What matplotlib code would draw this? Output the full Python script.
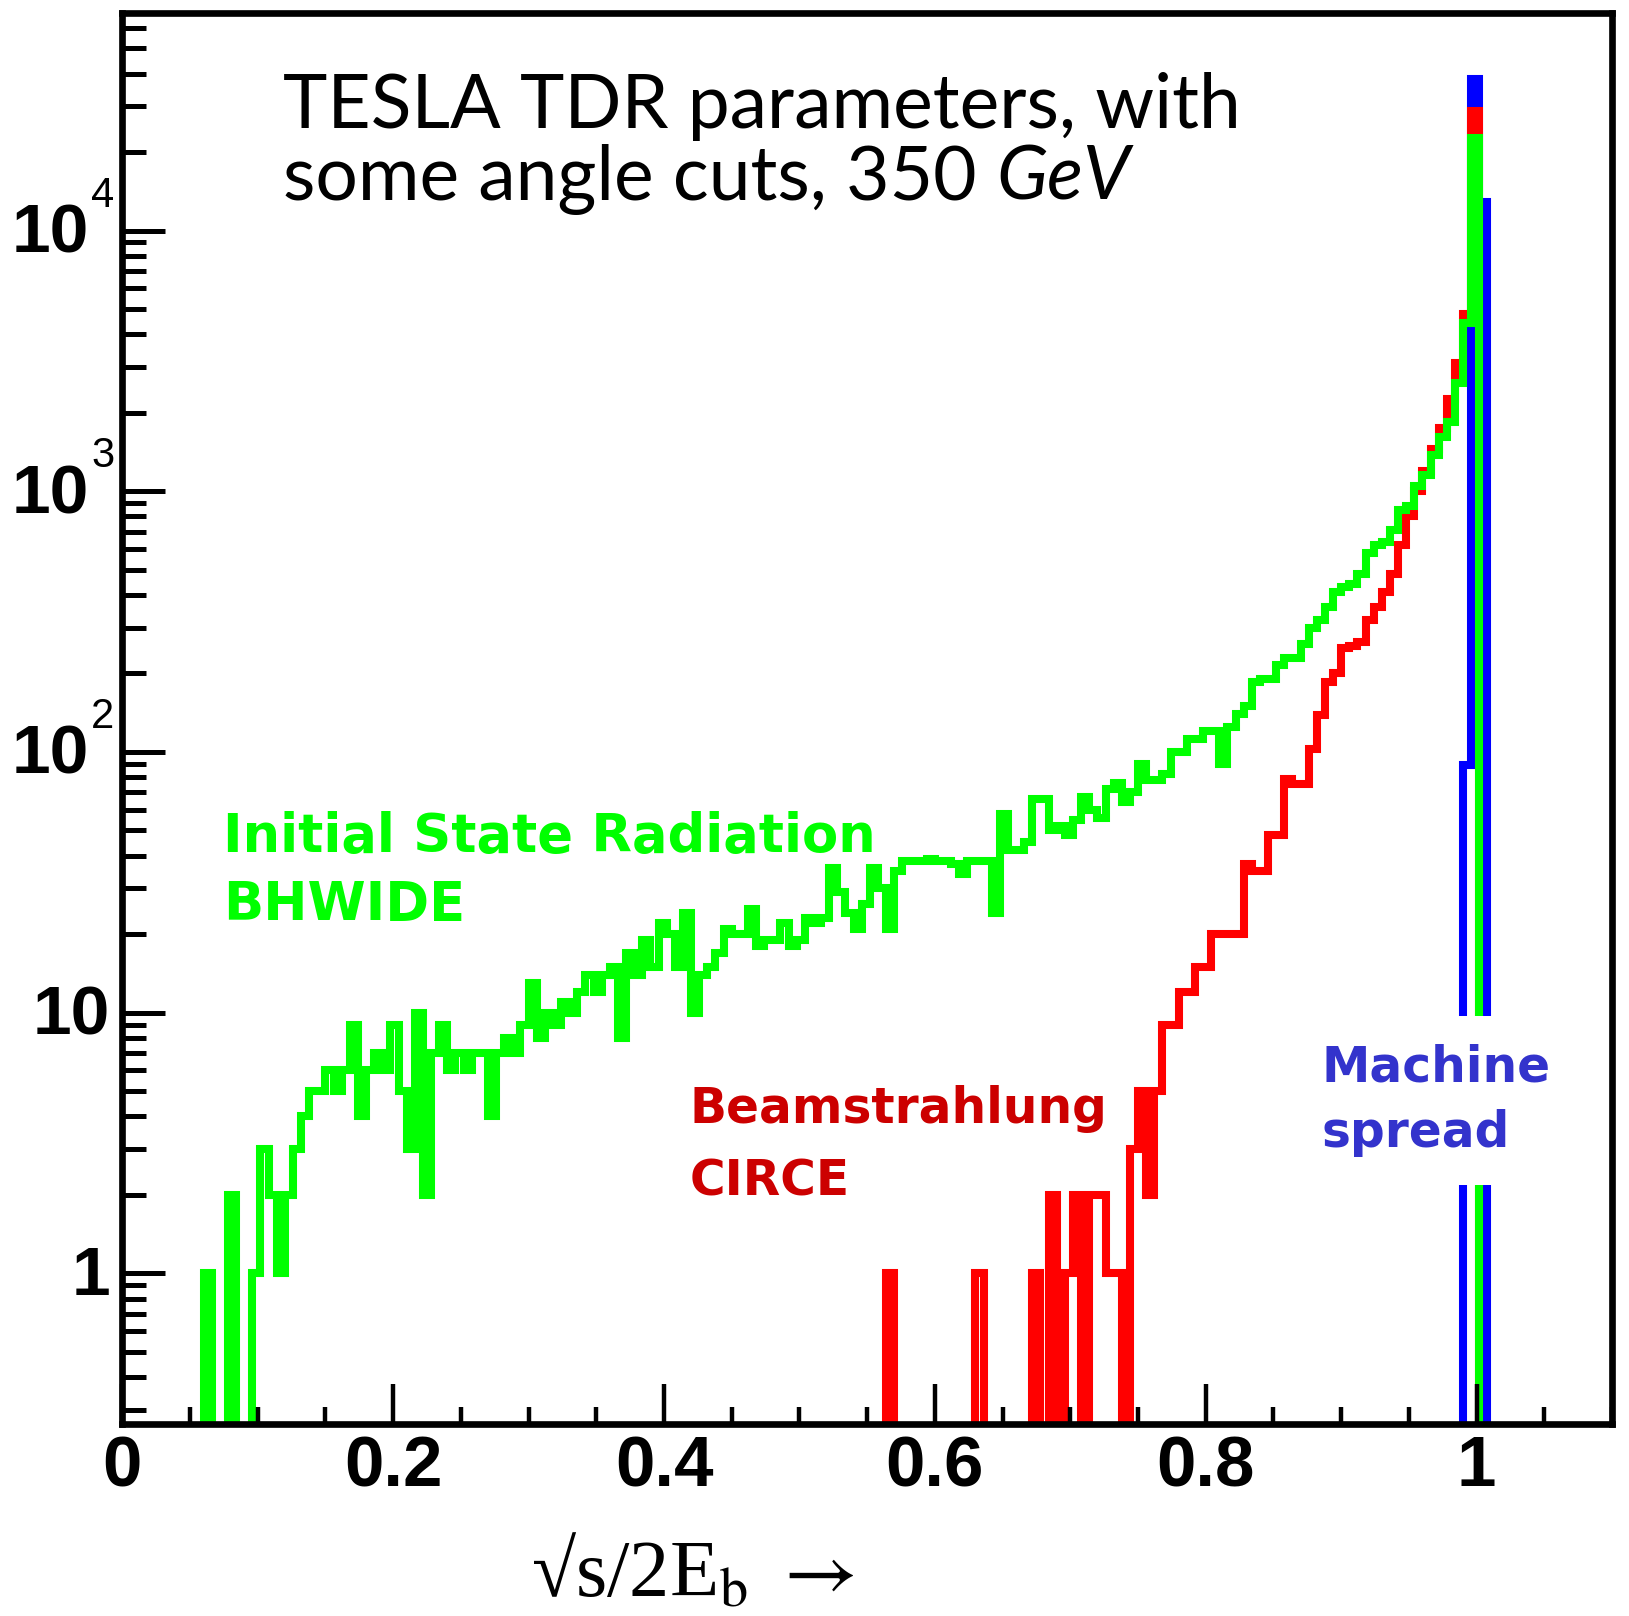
import matplotlib
matplotlib.use("Agg")
import matplotlib.pyplot as plt
import numpy as np
from matplotlib.ticker import MultipleLocator, LogLocator, NullFormatter, FuncFormatter

plt.rcParams["mathtext.fontset"] = "stix"

W, H, DPI = 1629, 1616, 100

# histogram binning in sqrt(s)/2E_b
bin_width = 0.006

# ISR (BHWIDE) counts, first bin starts at isr_first * bin_width
isr_first = 9
isr_counts = [
    0, 1, 0, 0, 2, 0, 0, 1, 3, 2, 1, 2, 3, 4, 5, 5, 6, 5, 6, 9,
    4, 6, 7, 6, 9, 5, 3, 10, 2, 7, 9, 6, 7, 6, 7, 7, 4, 7, 8, 7,
    9, 13, 8, 10, 9, 11, 10, 12, 14, 12, 14, 15, 8, 17, 14, 19, 15, 22, 20, 15,
    24, 10, 14, 15, 17, 21, 20, 20, 25, 18, 19, 19, 22, 18, 19, 23, 22, 23, 36, 29,
    24, 21, 26, 36, 30, 21, 35, 38, 38, 38, 39, 38, 38, 37, 34, 38, 38, 38, 24, 58,
    42, 42, 45, 66, 66, 50, 52, 48, 55, 67, 60, 56, 72, 76, 64, 70, 90, 78, 78, 82,
    100, 100, 112, 112, 120, 120, 90, 125, 140, 150, 186, 190, 190, 215, 230, 230, 260, 300, 320, 360,
    410, 430, 440, 480, 580, 620, 640, 710, 850, 880, 1050, 1150, 1380, 1620, 1850, 2600, 4400, 22600, 0,
]

# beamstrahlung (CIRCE) counts
beam_first = 93
beam_counts = [
    0, 1, 0, 0, 0, 0, 0, 0, 0, 0, 0, 0, 1, 0, 0, 0, 0, 0, 0, 1,
    0, 2, 0, 1, 2, 0, 2, 2, 1, 1, 0, 3, 5, 2, 5, 9, 9, 12, 12, 15,
    15, 20, 20, 20, 20, 37, 35, 35, 48, 48, 79, 75, 75, 103, 138, 186, 200, 250, 255, 265,
    320, 360, 410, 480, 620, 800, 1000, 1200, 1450, 1750, 2250, 3100, 4800, 28700, 0,
]

# machine energy spread counts
spread_first = 164
spread_counts = [0, 89, 38000, 12900, 0]

decades = [0, 1, 2, 3, 4]


def px(x, y):
    """pixel position (from top-left) -> figure fraction"""
    return x / W, 1 - y / H


def stairs(ax, first, counts, color):
    counts = np.asarray(counts, dtype=float)
    edges = np.arange(first, first + len(counts) + 1) * bin_width
    # empty bins sit below the visible range on the log axis
    vals = np.where(counts > 0, counts, 0.05)
    ax.stairs(vals, edges, baseline=None, color=color, linewidth=5.8,
              joinstyle="miter", capstyle="butt")


fig = plt.figure(figsize=(W / DPI, H / DPI), dpi=DPI)
ax = fig.add_axes([122.3 / W, 1 - 1424 / H, (1612 - 122.3) / W, (1424 - 13.3) / H])

stairs(ax, spread_first, spread_counts, "#0000ff")
stairs(ax, beam_first, beam_counts, "#ff0000")
stairs(ax, isr_first, isr_counts, "#00ff00")

ax.set_yscale("log")
ax.set_xlim(0, 1.1)
ax.set_ylim(0.2642, 68100)
ax.set_axisbelow(False)

for s in ax.spines.values():
    s.set_linewidth(4.8)

ax.xaxis.set_major_locator(MultipleLocator(0.2))
ax.xaxis.set_minor_locator(MultipleLocator(0.05))
ax.xaxis.set_major_formatter(FuncFormatter(lambda v, p: f"{v:g}"))
ax.yaxis.set_major_locator(LogLocator(base=10))
ax.yaxis.set_minor_locator(LogLocator(base=10, subs=np.arange(2, 10)))
ax.yaxis.set_major_formatter(NullFormatter())
ax.yaxis.set_minor_formatter(NullFormatter())

ax.tick_params(axis="x", which="major", direction="in", length=29, width=3.2, pad=8,
               labelsize=51)
ax.tick_params(axis="x", which="minor", direction="in", length=12, width=3.2)
ax.tick_params(axis="y", which="major", direction="in", length=31, width=3.6)
ax.tick_params(axis="y", which="minor", direction="in", length=17, width=3.6)
for lab in ax.get_xticklabels():
    lab.set_fontweight("bold")
    lab.set_family("Liberation Sans")

# y labels: bold "10" with a light exponent to its upper right
ytrans = ax.get_yaxis_transform()
for d in decades:
    base = "1" if d == 0 else "10"
    xoff = -33 if d >= 2 else -12
    ax.annotate(base, xy=(0, 10.0 ** d), xycoords=ytrans, xytext=(xoff, -4),
                textcoords="offset pixels", ha="right", va="center",
                fontsize=50, fontweight="bold", family="Liberation Sans",
                annotation_clip=False)
    if d >= 2:
        ax.annotate(str(d), xy=(0, 10.0 ** d), xycoords=ytrans, xytext=(-31, 35),
                    textcoords="offset pixels", ha="left", va="center",
                    fontsize=30, family="Liberation Sans", annotation_clip=False)

# header
fig.text(*px(283, 128), "TESLA TDR parameters, with", fontsize=54, family="Lato",
         va="baseline", ha="left")
t2 = fig.text(*px(283, 200), "some angle cuts, 350 ", fontsize=54, family="Lato",
              va="baseline", ha="left")
gev = fig.text(*px(283, 200), "GeV", fontsize=54, family="Lato", style="italic",
               va="baseline", ha="left")

# series labels
lab_font = dict(family="DejaVu Sans", fontweight="bold", va="baseline", ha="left")
fig.text(*px(223, 852), "Initial State Radiation", color="#00ff00", fontsize=38, **lab_font)
fig.text(*px(223, 920), "BHWIDE", color="#00ff00", fontsize=38, **lab_font)
fig.text(*px(690, 1123), "Beamstrahlung", color="#cc0000", fontsize=35, **lab_font)
fig.text(*px(690, 1196), "CIRCE", color="#cc0000", fontsize=35, **lab_font)
# multi-line baseline alignment refers to the last line ("spread")
fig.text(*px(1322, 1147), "Machine\nspread", color="#3333cc", fontsize=35,
         linespacing=1.45, family="DejaVu Sans", fontweight="bold", va="baseline",
         ha="left", bbox=dict(facecolor="white", edgecolor="none", pad=20))

fig.text(*px(692, 1597), "\u221as/2E$_{\\mathrm{b}}$ $\\rightarrow$", fontsize=58,
         family=["Liberation Serif", "DejaVu Serif"], ha="center", va="baseline")

# place the italic unit right after the second header line
fig.canvas.draw()
bb = t2.get_window_extent()
gev.set_position((bb.x1 / W, 1 - 200 / H))

fig.savefig("out.png", dpi=DPI)
